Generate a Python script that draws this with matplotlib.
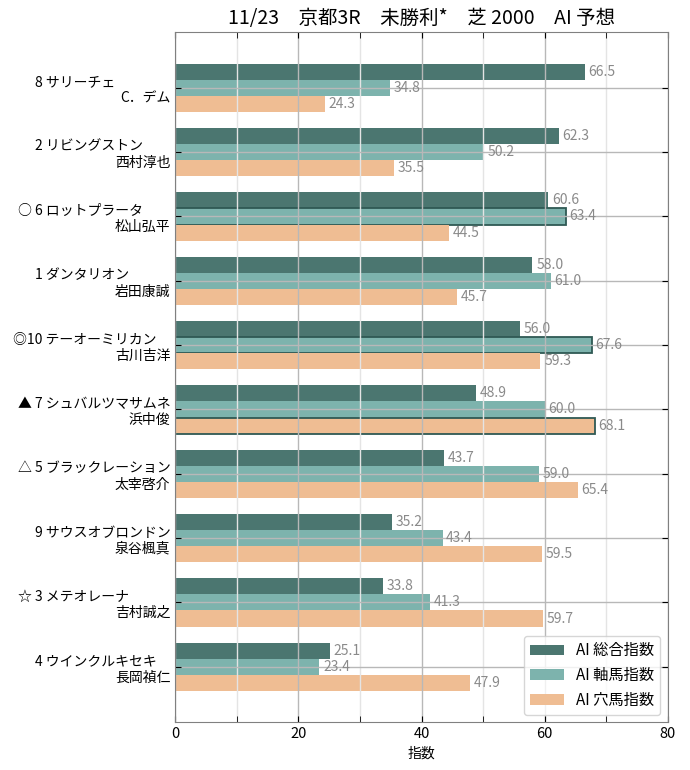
import matplotlib
matplotlib.use("Agg")
import matplotlib.pyplot as plt
import numpy as np

plt.rcParams["font.family"] = ["Noto Sans CJK JP", "DejaVu Sans"]

marks = ["", "", "○", "", "◎", "▲", "△", "", "☆", ""]
numbers = [8, 2, 6, 1, 10, 7, 5, 9, 3, 4]
horses = ["サリーチェ", "リビングストン", "ロットプラータ", "ダンタリオン",
          "テーオーミリカン", "シュバルツマサムネ", "ブラックレーション",
          "サウスオブロンドン", "メテオレーナ", "ウインクルキセキ"]
jockeys = ["C．デム", "西村淳也", "松山弘平", "岩田康誠", "古川吉洋",
           "浜中俊", "太宰啓介", "泉谷楓真", "吉村誠之", "長岡禎仁"]

sogo = [66.5, 62.3, 60.6, 58.0, 56.0, 48.9, 43.7, 35.2, 33.8, 25.1]
jiku = [34.8, 50.2, 63.4, 61.0, 67.6, 60.0, 59.0, 43.4, 41.3, 23.4]
ana = [24.3, 35.5, 44.5, 45.7, 59.3, 68.1, 65.4, 59.5, 59.7, 47.9]

series = [
    ("AI 総合指数", sogo, "#4b7670"),
    ("AI 軸馬指数", jiku, "#7db3ad"),
    ("AI 穴馬指数", ana, "#efbd93"),
]
# bars drawn with an outline (series index, row index)
outlined = {(1, 2), (1, 4), (2, 5)}

labels = []
for m, n, h, j in zip(marks, numbers, horses, jockeys):
    mk = m if m else "\u3000"
    labels.append(f"{mk}{n:>2} {h.ljust(9, chr(0x3000))}\n{j}")

fig = plt.figure(figsize=(6.9, 7.7), dpi=100)
ax = fig.add_axes([0.254, 0.062, 0.714, 0.896])

y = np.arange(len(horses))
h = 0.25
for si, (name, vals, col) in enumerate(series):
    off = (si - 1) * h
    bars = ax.barh(y + off, vals, h, color=col, label=name)
    for ri, b in enumerate(bars):
        if (si, ri) in outlined:
            b.set_edgecolor("#2f5954")
            b.set_linewidth(1.3)
        ax.text(vals[ri] + 0.6, y[ri] + off, f"{vals[ri]:.1f}", va="center",
                ha="left", fontsize=10, color="#8a8a8a")

ax.set_yticks(y)
ax.set_yticklabels(labels, fontsize=10)
ax.invert_yaxis()
ax.set_xlim(0, 80)
ax.set_xticks([0, 20, 40, 60, 80])
ax.set_xticks([10, 30, 50, 70], minor=True)
ax.tick_params(axis="x", labelsize=10.5)
ax.tick_params(which="both", direction="in", top=True, right=True, length=4)
ax.grid(which="major", color="#b8b8b8", linewidth=1.0)
ax.grid(which="minor", axis="x", color="#e4e4e4", linewidth=1.0)
for s in ax.spines.values():
    s.set_color("#808080")
ax.set_xlabel("指数", fontsize=10)
ax.set_title("11/23\u3000京都3R\u3000未勝利*\u3000芝 2000\u3000AI 予想", fontsize=14)
ax.legend(loc="lower right", fontsize=11, handlelength=2.2)

fig.savefig("out.png", dpi=100)
